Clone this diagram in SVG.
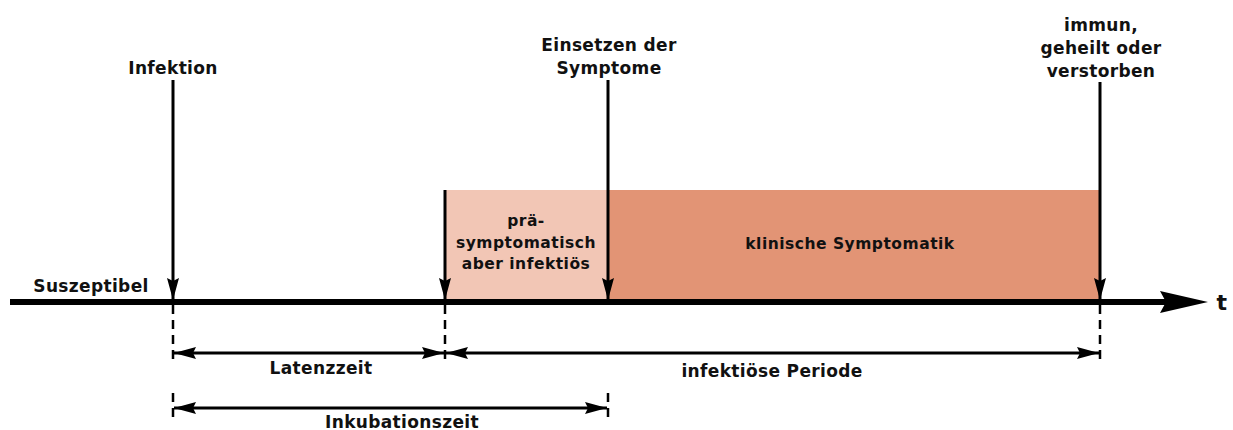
<svg xmlns="http://www.w3.org/2000/svg" width="1233" height="430" viewBox="0 0 1233 430">
  <style>
    text { font-family: "DejaVu Sans", "Liberation Sans", sans-serif; font-weight: bold; fill: #111; text-anchor: middle; letter-spacing: 0.35px; }
    .big { font-size: 17px; }
    .small { font-size: 15.5px; letter-spacing: 0.5px; }
    .axis-label { font-size: 22px; }
    .event { stroke: #000; stroke-width: 3; fill: none; }
    .span { stroke: #000; stroke-width: 3; fill: none; }
    .dash { stroke: #000; stroke-width: 2.5; stroke-dasharray: 9 6; fill: none; }
  </style>
  <defs>
    <!-- filled arrowhead, tip at the end of the line -->
    <marker id="tip" viewBox="0 0 22 12" refX="22" refY="6" markerWidth="22" markerHeight="12" markerUnits="userSpaceOnUse" orient="auto-start-reverse">
      <path d="M0,0 L22,6 L0,12 L3,6 Z" fill="#000"/>
    </marker>
  </defs>

  <!-- phase bands -->
  <g id="phase-presymptomatic">
    <rect x="445" y="190" width="163" height="110" fill="#F2C6B5"/>
    <text class="small" x="526" y="226">prä-</text>
    <text class="small" x="526" y="248">symptomatisch</text>
    <text class="small" x="526" y="269">aber infektiös</text>
  </g>
  <g id="phase-clinical">
    <rect x="608" y="190" width="492" height="110" fill="#E29475"/>
    <text class="small" x="850" y="249">klinische Symptomatik</text>
  </g>

  <!-- time axis -->
  <g id="axis">
    <line x1="10" y1="302" x2="1170" y2="302" stroke="#000" stroke-width="6"/>
    <path d="M1160,291 L1208,302 L1160,313 L1166,302 Z" fill="#000"/>
    <text class="axis-label" x="1222" y="310">t</text>
    <text class="big" x="91" y="292">Suszeptibel</text>
  </g>

  <!-- event labels -->
  <g id="event-infection">
    <text class="big" x="173" y="74">Infektion</text>
  </g>
  <g id="event-onset">
    <text class="big" x="609" y="51">Einsetzen der</text>
    <text class="big" x="609" y="74">Symptome</text>
  </g>
  <g id="event-end">
    <text class="big" x="1101" y="31">immun,</text>
    <text class="big" x="1101" y="54">geheilt oder</text>
    <text class="big" x="1101" y="77">verstorben</text>
  </g>

  <!-- connectors -->
  <g id="connectors">
    <line class="event" x1="173" y1="80" x2="173" y2="300" marker-end="url(#tip)"/>
    <line class="event" x1="445" y1="190" x2="445" y2="300" marker-end="url(#tip)"/>
    <line class="event" x1="608" y1="80" x2="608" y2="300" marker-end="url(#tip)"/>
    <line class="event" x1="1100" y1="82" x2="1100" y2="300" marker-end="url(#tip)"/>

    <line class="dash" x1="173" y1="305" x2="173" y2="362"/>
    <line class="dash" x1="445" y1="305" x2="445" y2="362"/>
    <line class="dash" x1="1100" y1="305" x2="1100" y2="362"/>
    <line class="dash" x1="173" y1="393" x2="173" y2="422"/>
    <line class="dash" x1="608" y1="393" x2="608" y2="422"/>

    <line class="span" x1="174" y1="353" x2="444" y2="353" marker-start="url(#tip)" marker-end="url(#tip)"/>
    <line class="span" x1="446" y1="353" x2="1099" y2="353" marker-start="url(#tip)" marker-end="url(#tip)"/>
    <line class="span" x1="174" y1="408" x2="607" y2="408" marker-start="url(#tip)" marker-end="url(#tip)"/>
  </g>

  <!-- interval labels -->
  <g id="interval-latency">
    <text class="big" x="321" y="374">Latenzzeit</text>
  </g>
  <g id="interval-infectious">
    <text class="big" x="772" y="377">infektiöse Periode</text>
  </g>
  <g id="interval-incubation">
    <text class="big" x="402" y="428">Inkubationszeit</text>
  </g>
</svg>
